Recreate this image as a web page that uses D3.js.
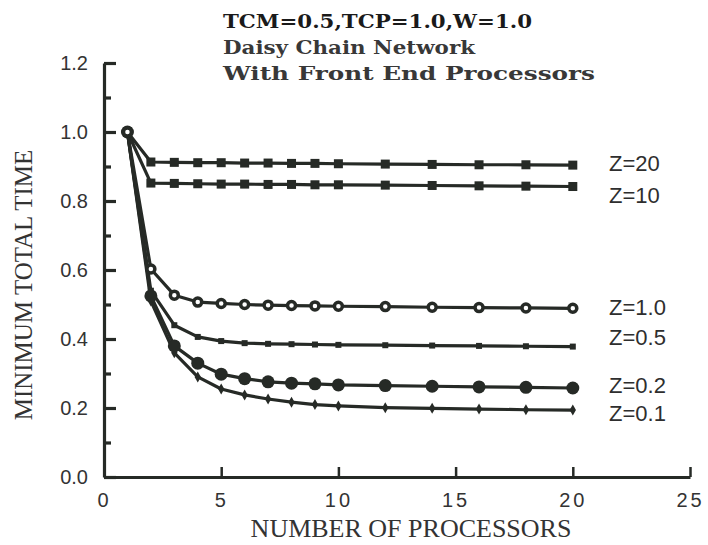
<!DOCTYPE html>
<html>
<head>
<meta charset="utf-8">
<script src="https://cdn.jsdelivr.net/npm/d3@7"></script>
<style>
  body { margin: 0; background: #fff; }
  svg { display: block; }
</style>
</head>
<body>
<div id="chart"></div>
<script>

// processors used on the x axis
var procs = [1, 2, 3, 4, 5, 6, 7, 8, 9, 10, 12, 14, 16, 18, 20];

// minimum total time, one list per Z value
var z20  = [1.0, 0.913, 0.912, 0.911, 0.911, 0.910, 0.910, 0.909, 0.909, 0.908, 0.907, 0.906, 0.905, 0.905, 0.904];
var z10  = [1.0, 0.852, 0.851, 0.850, 0.849, 0.849, 0.848, 0.848, 0.847, 0.847, 0.846, 0.845, 0.844, 0.843, 0.842];
var z1   = [1.0, 0.603, 0.527, 0.507, 0.503, 0.500, 0.498, 0.497, 0.496, 0.495, 0.494, 0.492, 0.491, 0.490, 0.489];
var z05  = [1.0, 0.540, 0.440, 0.406, 0.394, 0.388, 0.386, 0.385, 0.384, 0.383, 0.382, 0.381, 0.380, 0.379, 0.378];
var z02  = [1.0, 0.525, 0.380, 0.330, 0.298, 0.285, 0.276, 0.272, 0.270, 0.267, 0.265, 0.263, 0.261, 0.260, 0.258];
var z01  = [1.0, 0.510, 0.360, 0.290, 0.255, 0.238, 0.226, 0.217, 0.210, 0.206, 0.201, 0.199, 0.197, 0.195, 0.194];

var seriesNames  = ["Z=20", "Z=10", "Z=0.1", "Z=0.5", "Z=0.2", "Z=1.0"];
var seriesValues = [z20, z10, z01, z05, z02, z1];
var seriesMarker = ["square", "square", "tiny", "small", "dot", "ring"];
// where each right-hand label sits, in minimum total time units
var labelAt      = [0.910, 0.817, 0.186, 0.406, 0.267, 0.493];

var xTicks = [0, 5, 10, 15, 20, 25];
var yMajor = [0.0, 0.2, 0.4, 0.6, 0.8, 1.0, 1.2];
var yMinor = [0.1, 0.3, 0.5, 0.7, 0.9, 1.1];

var titleLines = ["TCM=0.5,TCP=1.0,W=1.0", "Daisy Chain Network", "With Front End Processors"];

var ink = "#262a26";

var svg = d3.select("#chart").append("svg")
  .attr("width", 708)
  .attr("height", 545);

var x = d3.scaleLinear().domain([0, 25]).range([104, 690]);
var y = d3.scaleLinear().domain([0, 1.2]).range([477, 63]);

//......................... Title ............................
var titleWidths = [309, 252, 372];
svg.append("g")
  .selectAll("text")
  .data(titleLines)
  .enter()
  .append("text")
  .attr("x", 223)
  .attr("y", function(d, i){ return 28 + i*26; })
  .attr("font-family", "'DejaVu Serif', serif")
  .attr("font-weight", "bold")
  .attr("font-size", 19)
  .attr("textLength", function(d, i){ return titleWidths[i]; })
  .attr("lengthAdjust", "spacingAndGlyphs")
  .attr("fill", function(d, i){ return i == 0 ? "#1a1a1a" : "#383838"; })
  .text(function(d){ return d; });

//......................... Axes ............................
var yAxis = d3.axisLeft(y)
  .tickValues(yMajor)
  .tickFormat(d3.format(".1f"))
  .tickSizeInner(-12)
  .tickSizeOuter(0)
  .tickPadding(16);

var yMinorAxis = d3.axisLeft(y)
  .tickValues(yMinor)
  .tickFormat("")
  .tickSizeInner(-7)
  .tickSizeOuter(0);

var xAxis = d3.axisBottom(x)
  .tickValues(xTicks)
  .tickFormat(d3.format("d"))
  .tickSizeInner(-10)
  .tickSizeOuter(0)
  .tickPadding(16);

var gx = svg.append("g")
  .attr("transform", "translate(0," + y(0) + ")")
  .call(xAxis);

var gyMinor = svg.append("g")
  .attr("transform", "translate(" + x(0) + ",0)")
  .call(yMinorAxis);

var gy = svg.append("g")
  .attr("transform", "translate(" + x(0) + ",0)")
  .call(yAxis);

[gx, gy, gyMinor].forEach(function(g){
  g.selectAll("path, line")
    .attr("stroke", ink)
    .attr("stroke-width", 3.2);
  g.selectAll("text")
    .attr("font-family", "'Liberation Sans', Arial, sans-serif")
    .attr("font-size", 20)
    .attr("fill", "#333");
});
gyMinor.select(".domain").remove();
gx.selectAll("text").attr("letter-spacing", 3);
gx.selectAll(".tick line").attr("stroke-width", 2.5);

// axis titles
svg.append("text")
  .attr("x", 411)
  .attr("y", 537)
  .attr("text-anchor", "middle")
  .attr("font-family", "'Liberation Serif', 'Times New Roman', serif")
  .attr("font-size", 26)
  .attr("fill", "#333")
  .text("NUMBER OF PROCESSORS");

svg.append("text")
  .attr("transform", "translate(32,285) rotate(-90)")
  .attr("text-anchor", "middle")
  .attr("font-family", "'Liberation Serif', 'Times New Roman', serif")
  .attr("font-size", 25)
  .attr("fill", "#333")
  .text("MINIMUM TOTAL TIME");

//......................... Series ............................
var line = d3.line()
  .x(function(d){ return x(d[0]); })
  .y(function(d){ return y(d[1]); });

function drawMarker(g, kind, pts){
  var sel = g.selectAll(".mk")
    .data(pts)
    .enter();
  if (kind == "square" || kind == "small"){
    var s = kind == "square" ? 9 : 6;
    sel.append("rect")
      .attr("x", function(d){ return x(d[0]) - s/2; })
      .attr("y", function(d){ return y(d[1]) - s/2; })
      .attr("width", s)
      .attr("height", s)
      .attr("fill", ink);
  } else if (kind == "ring"){
    sel.append("circle")
      .attr("cx", function(d){ return x(d[0]); })
      .attr("cy", function(d){ return y(d[1]); })
      .attr("r", 4)
      .attr("fill", "#fff")
      .attr("stroke", ink)
      .attr("stroke-width", 3.5);
  } else if (kind == "dot"){
    sel.append("circle")
      .attr("cx", function(d){ return x(d[0]); })
      .attr("cy", function(d){ return y(d[1]); })
      .attr("r", 6.5)
      .attr("fill", ink);
  } else {
    sel.append("path")
      .attr("transform", function(d){ return "translate(" + x(d[0]) + "," + y(d[1]) + ")"; })
      .attr("d", d3.symbol().type(d3.symbolDiamond).size(35))
      .attr("fill", ink);
  }
}

seriesValues.forEach(function(vals, i){
  var pts = d3.zip(procs, vals);
  var g = svg.append("g").attr("class", "series");
  g.append("path")
    .datum(pts)
    .attr("d", line)
    .attr("fill", "none")
    .attr("stroke", ink)
    .attr("stroke-width", 3.2)
    .attr("stroke-linejoin", "round");
  drawMarker(g, seriesMarker[i], pts);

  g.append("text")
    .attr("x", 609)
    .attr("y", y(labelAt[i]))
    .attr("dy", "0.36em")
    .attr("font-family", "'Liberation Sans', Arial, sans-serif")
    .attr("font-size", 22)
    .attr("fill", "#2e2e2e")
    .text(seriesNames[i]);
});

</script>
</body>
</html>
